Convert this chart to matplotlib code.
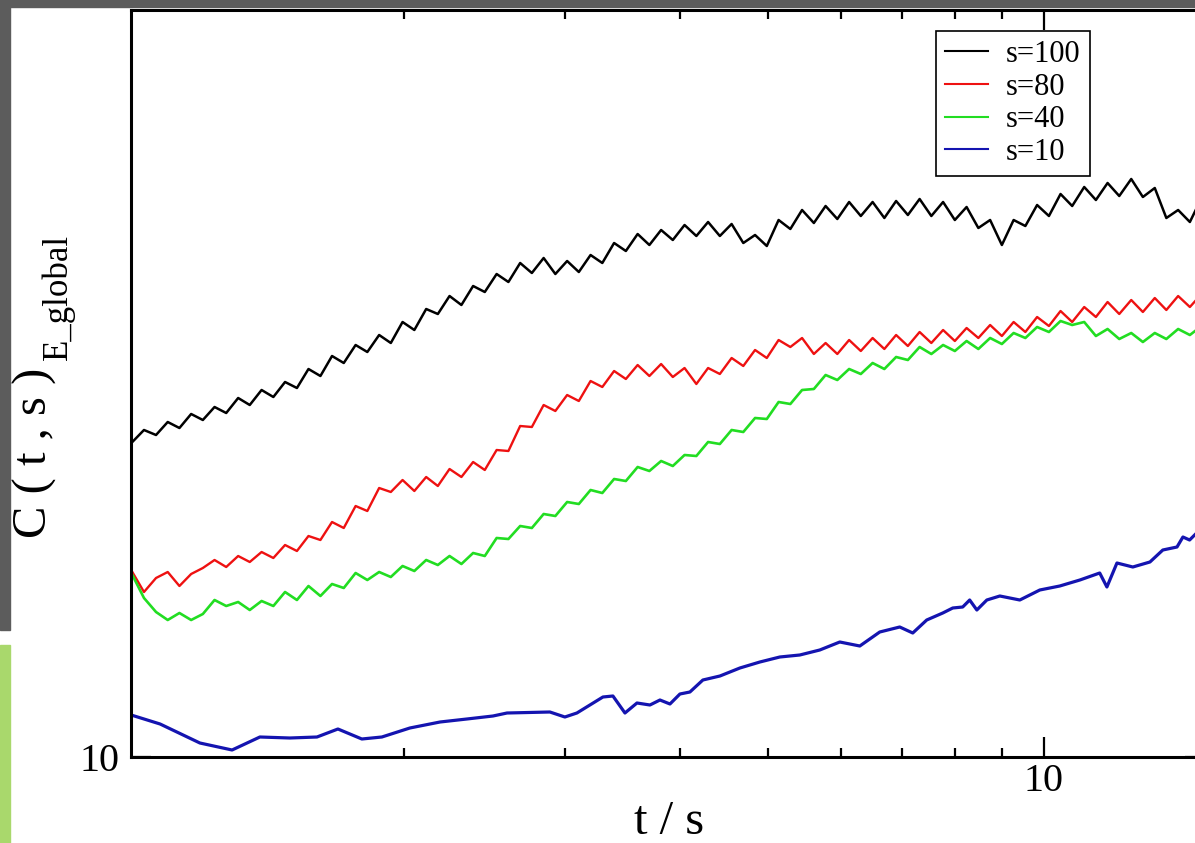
import matplotlib
matplotlib.use("Agg")
import matplotlib.pyplot as plt
from matplotlib.patches import Rectangle
from matplotlib.ticker import NullLocator, NullFormatter

plt.rcParams["font.family"] = ["Liberation Serif", "DejaVu Serif"]

# sample times shared by the three noisy curves
t = [1.01, 1.040, 1.072, 1.104, 1.137, 1.171, 1.206, 1.242, 1.279, 1.318,
     1.357, 1.398, 1.440, 1.483, 1.528, 1.573, 1.621, 1.669, 1.719, 1.771,
     1.824, 1.879, 1.935, 1.993, 2.053, 2.115, 2.178, 2.243, 2.311, 2.380,
     2.451, 2.525, 2.601, 2.679, 2.759, 2.842, 2.927, 3.015, 3.105, 3.198,
     3.294, 3.393, 3.495, 3.600, 3.708, 3.819, 3.933, 4.051, 4.173, 4.298,
     4.427, 4.560, 4.696, 4.837, 4.982, 5.132, 5.286, 5.444, 5.608, 5.776,
     5.949, 6.128, 6.311, 6.501, 6.696, 6.897, 7.104, 7.317, 7.536, 7.762,
     7.995, 8.235, 8.482, 8.737, 8.999, 9.269, 9.547, 9.833, 10.13, 10.43,
     10.74, 11.07, 11.40, 11.74, 12.09, 12.46, 12.83, 13.22, 13.61, 14.02,
     14.44, 14.87, 15.32]

c_s100 = [13.15, 13.27, 13.22, 13.35, 13.29, 13.43, 13.37, 13.50, 13.44, 13.59,
          13.52, 13.67, 13.60, 13.75, 13.69, 13.88, 13.81, 14.01, 13.94, 14.12,
          14.05, 14.22, 14.14, 14.35, 14.27, 14.48, 14.43, 14.61, 14.52, 14.71,
          14.65, 14.83, 14.75, 14.94, 14.84, 14.99, 14.83, 14.96, 14.85, 15.02,
          14.94, 15.14, 15.06, 15.23, 15.12, 15.27, 15.17, 15.32, 15.21, 15.35,
          15.21, 15.33, 15.14, 15.22, 15.11, 15.37, 15.28, 15.47, 15.34, 15.51,
          15.38, 15.55, 15.41, 15.55, 15.39, 15.56, 15.42, 15.58, 15.41, 15.55,
          15.37, 15.50, 15.29, 15.37, 15.12, 15.37, 15.31, 15.52, 15.41, 15.63,
          15.51, 15.70, 15.57, 15.74, 15.61, 15.78, 15.60, 15.69, 15.39, 15.47,
          15.35, 15.59, 15.52]

c_s80 = [11.85, 11.65, 11.79, 11.85, 11.71, 11.83, 11.89, 11.97, 11.90, 12.01,
         11.95, 12.05, 11.99, 12.12, 12.06, 12.21, 12.17, 12.35, 12.29, 12.51,
         12.46, 12.69, 12.65, 12.77, 12.66, 12.80, 12.71, 12.88, 12.80, 12.95,
         12.87, 13.07, 13.06, 13.31, 13.30, 13.52, 13.46, 13.62, 13.56, 13.76,
         13.70, 13.86, 13.78, 13.92, 13.81, 13.93, 13.80, 13.89, 13.73, 13.89,
         13.83, 13.99, 13.91, 14.07, 13.99, 14.17, 14.10, 14.19, 14.03, 14.14,
         14.03, 14.17, 14.06, 14.19, 14.08, 14.22, 14.11, 14.25, 14.14, 14.27,
         14.16, 14.29, 14.19, 14.32, 14.21, 14.35, 14.25, 14.40, 14.31, 14.46,
         14.35, 14.50, 14.40, 14.55, 14.43, 14.57, 14.45, 14.59, 14.47, 14.61,
         14.50, 14.63, 14.54]

c_s40 = [11.82, 11.59, 11.45, 11.37, 11.44, 11.37, 11.43, 11.57, 11.51, 11.55,
         11.47, 11.56, 11.51, 11.65, 11.57, 11.71, 11.61, 11.73, 11.69, 11.84,
         11.77, 11.85, 11.80, 11.91, 11.86, 11.97, 11.92, 12.01, 11.93, 12.04,
         12.01, 12.19, 12.18, 12.31, 12.29, 12.43, 12.41, 12.55, 12.53, 12.67,
         12.64, 12.78, 12.76, 12.90, 12.86, 12.96, 12.91, 13.02, 13.01, 13.15,
         13.13, 13.27, 13.25, 13.39, 13.38, 13.55, 13.53, 13.67, 13.68, 13.82,
         13.77, 13.88, 13.83, 13.94, 13.88, 14.00, 13.97, 14.10, 14.03, 14.12,
         14.06, 14.16, 14.08, 14.19, 14.13, 14.24, 14.19, 14.30, 14.25, 14.36,
         14.32, 14.35, 14.21, 14.28, 14.18, 14.24, 14.15, 14.24, 14.18, 14.28,
         14.22, 14.31, 14.25]

# s=10 is sampled much more coarsely
t_s10 = [1.007, 1.083, 1.197, 1.298, 1.392, 1.501, 1.607, 1.694, 1.799, 1.892,
         2.030, 2.190, 2.343, 2.502, 2.592, 2.887, 2.998, 3.090, 3.299, 3.383,
         3.487, 3.594, 3.713, 3.808, 3.905, 4.004, 4.106, 4.242, 4.428, 4.656,
         4.896, 5.148, 5.413, 5.692, 5.986, 6.295, 6.619, 6.960, 7.192, 7.449,
         7.756, 7.953, 8.155, 8.299, 8.450, 8.665, 8.953, 9.414, 9.900, 10.41,
         10.95, 11.51, 11.72, 12.02, 12.51, 13.06, 13.49, 13.98, 14.19, 14.43,
         14.80, 15.37]
c_s10 = [10.42, 10.33, 10.14, 10.07, 10.20, 10.19, 10.20, 10.28, 10.18, 10.20,
         10.29, 10.35, 10.38, 10.41, 10.44, 10.45, 10.40, 10.44, 10.60, 10.61,
         10.44, 10.54, 10.52, 10.57, 10.53, 10.63, 10.65, 10.77, 10.81, 10.89,
         10.95, 11.00, 11.02, 11.07, 11.15, 11.11, 11.25, 11.30, 11.24, 11.37,
         11.44, 11.49, 11.50, 11.57, 11.47, 11.57, 11.61, 11.57, 11.67, 11.71,
         11.77, 11.84, 11.70, 11.94, 11.90, 11.95, 12.07, 12.10, 12.20, 12.17,
         12.27, 12.32]

series = [
    ("s=100", t, c_s100, "#000000", 1.8),
    ("s=80", t, c_s80, "#ee1111", 1.7),
    ("s=40", t, c_s40, "#22dd22", 1.9),
    ("s=10", t_s10, c_s10, "#1414b0", 2.3),
]
x_minor = [2, 3, 4, 5, 6, 7, 8, 9]

W, H = 1195, 843
fig = plt.figure(figsize=(W / 100, H / 100), dpi=100)
fig.patch.set_facecolor("white")

# bits of the slide around the pasted chart
gray = "#5c5c5c"
fig.add_artist(Rectangle((0, 1 - 7 / H), 1, 7 / H, transform=fig.transFigure, color=gray, zorder=0))
fig.add_artist(Rectangle((0, 1 - 630 / H), 10 / W, 630 / H, transform=fig.transFigure, color=gray, zorder=0))
fig.add_artist(Rectangle((0, 0), 10 / W, 1 - 645 / H, transform=fig.transFigure, color="#a9d86c", zorder=0))

ax = fig.add_axes([131 / W, 1 - 757 / H, (1205 - 131) / W, (757 - 10) / H])
for name, tx, cy, col, lw in series:
    ax.plot(tx, cy, color=col, lw=lw, label=name)

ax.set_xscale("log")
ax.set_xlim(1.0066, 15.0)
ax.set_ylim(10, 17.47)

ax.set_xticks([10])
ax.set_xticklabels(["10"])
ax.set_xticks(x_minor, minor=True)
ax.xaxis.set_minor_formatter(NullFormatter())
ax.set_yticks([10])
ax.set_yticklabels(["10"])
ax.yaxis.set_minor_locator(NullLocator())

ax.tick_params(which="both", direction="in", top=True, right=True, width=1.6, labelsize=29)
ax.tick_params(which="major", length=14.4)
ax.tick_params(which="minor", length=6.5)
ax.tick_params(axis="x", pad=4)
ax.tick_params(axis="y", pad=8)
for sp in ax.spines.values():
    sp.set_linewidth(2.2)

leg = ax.legend(loc="upper left", bbox_to_anchor=(0.7495, 0.9719), borderaxespad=0,
                fontsize=22, fancybox=False, edgecolor="black", framealpha=1,
                handlelength=1.4, handletextpad=0.6, labelspacing=0.12, borderpad=0.3)
leg.get_frame().set_linewidth(1.2)
for ln in leg.get_lines():
    ln.set_linewidth(1.5)

fig.text(669 / W, 1 - 834 / H, "t / s", ha="center", va="baseline", fontsize=35)
fig.text(47 / W, 1 - 538 / H, "C ( t , s )", rotation=90, rotation_mode="anchor",
         ha="left", va="baseline", fontsize=35)
fig.text(67 / W, 1 - 360 / H, "E_global", rotation=90, rotation_mode="anchor",
         ha="left", va="baseline", fontsize=25)

fig.savefig("out.png", dpi=100)
